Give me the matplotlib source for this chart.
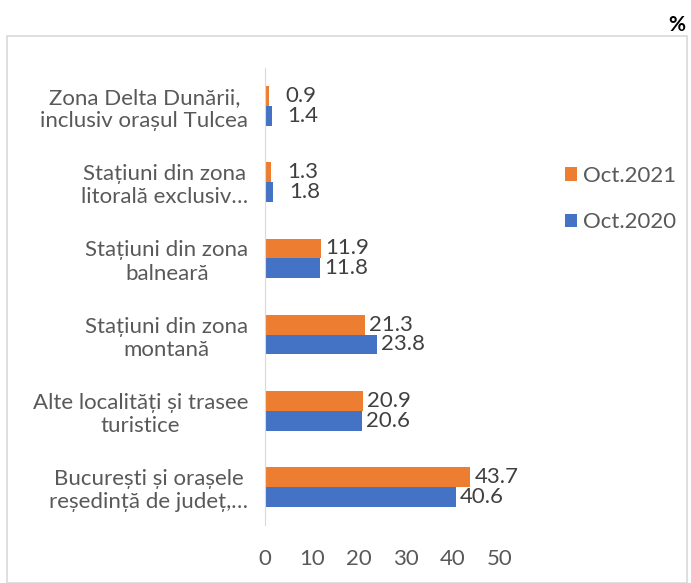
import matplotlib.pyplot as plt
from matplotlib.patches import Rectangle

categories = ['București și orașele\nreședință de județ,…',
              'Alte localități și trasee\nturistice',
              'Stațiuni din zona\nmontană',
              'Stațiuni din zona\nbalneară',
              'Stațiuni din zona\nlitorală exclusiv…',
              'Zona Delta Dunării,\ninclusiv orașul Tulcea']
oct2021 = [43.7, 20.9, 21.3, 11.9, 1.3, 0.9]
oct2020 = [40.6, 20.6, 23.8, 11.8, 1.8, 1.4]
x_ticks = [0, 10, 20, 30, 40, 50]

orange = '#ED7D31'
blue = '#4472C4'
gray = '#595959'
fs = 16

plt.rcParams['font.family'] = ['Lato', 'DejaVu Sans']

fig = plt.figure(figsize=(6.91, 5.83), dpi=100)
fig.patches.append(Rectangle((7 / 691, 0), 680 / 691, 1 - 36 / 583, transform=fig.transFigure,
                             fill=False, edgecolor='#d9d9d9', linewidth=1.2))
fig.text(0.992, 1 - 25 / 583, '%', ha='right', va='center', fontsize=15, fontweight='bold')

ax = fig.add_axes([265 / 691, 0.0995, 235 / 691, 0.7839])
y = list(range(len(categories)))
h = 0.26
ax.barh([i + h / 2 for i in y], oct2021, height=h, color=orange, label='Oct.2021')
ax.barh([i - h / 2 for i in y], oct2020, height=h, color=blue, label='Oct.2020')

for i in y:
    for v, dy in ((oct2021[i], h / 2), (oct2020[i], -h / 2)):
        off = 4 if v > 5 else 16
        ax.annotate(f'{v:.1f}', (v, i + dy), xytext=(off * 0.72, 0), textcoords='offset points',
                    ha='left', va='center', fontsize=fs, color='#404040')

ax.set_xlim(0, 50)
ax.set_ylim(-0.5, len(categories) - 0.5)
ax.set_yticks(y)
ax.set_yticklabels(categories, fontsize=fs, color=gray, multialignment='center',
                   linespacing=1.2)
ax.set_xticks(x_ticks)
ax.set_xticklabels([str(t) for t in x_ticks], fontsize=fs, color=gray)
ax.tick_params(axis='both', length=0)
ax.tick_params(axis='x', pad=17)
ax.tick_params(axis='y', pad=12)
for s in ('top', 'right', 'bottom'):
    ax.spines[s].set_visible(False)
ax.spines['left'].set_color('#d9d9d9')

handles, labels = ax.get_legend_handles_labels()
fig.legend(handles, labels, loc='center left', bbox_to_anchor=(545 / 691, 1 - 199 / 583),
           frameon=False, fontsize=fs, labelcolor=gray, handlelength=0.55, handleheight=0.55,
           handletextpad=0.25, labelspacing=1.2)

fig.savefig('out.png', dpi=100)
